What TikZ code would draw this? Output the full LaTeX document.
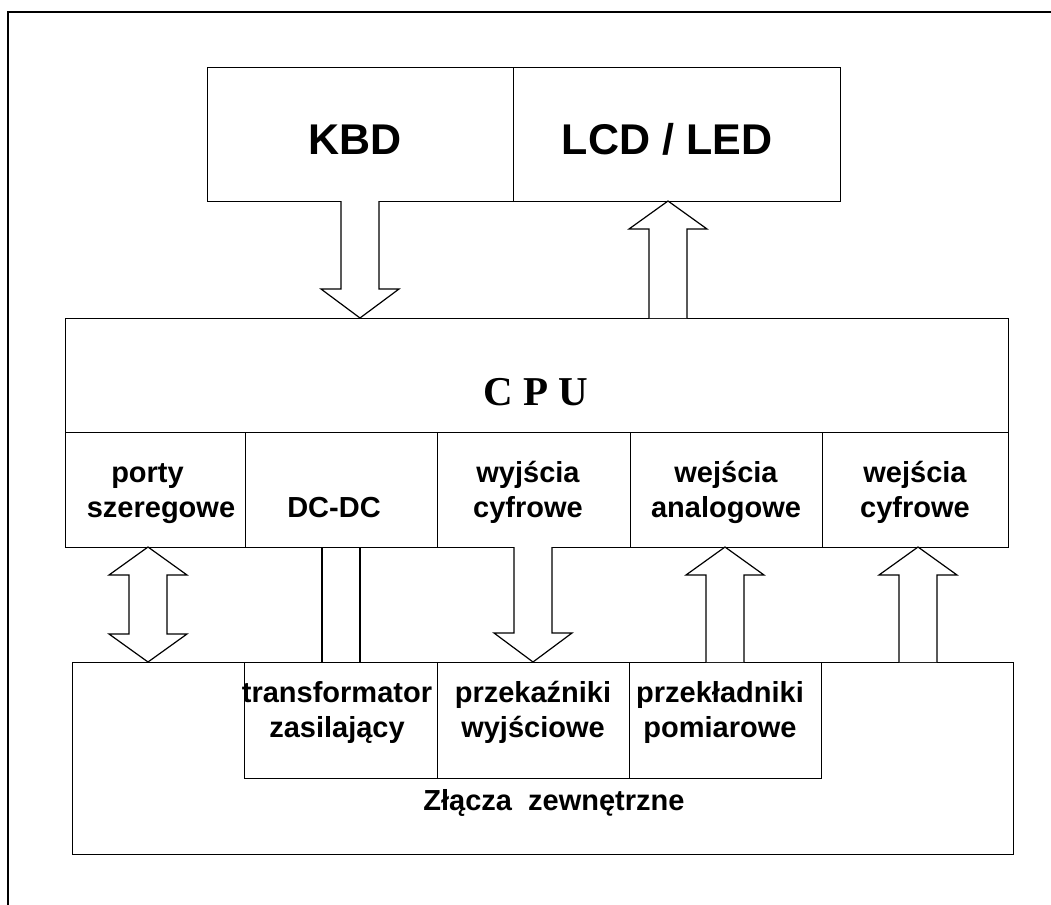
\documentclass[tikz,border=0pt]{standalone}
\usepackage{fontspec}
\setmainfont{Liberation Sans}
\newfontfamily\cpufont{Liberation Serif}
\newcommand\ArrowDown[3]{\draw[arr] (#1-19,#2) -- (#1-19,#3-29) -- (#1-39,#3-29) -- (#1,#3) -- (#1+39,#3-29) -- (#1+19,#3-29) -- (#1+19,#2);}
\newcommand\ArrowUp[3]{\draw[arr] (#1-19,#3) -- (#1-19,#2+28) -- (#1-39,#2+28) -- (#1,#2) -- (#1+39,#2+28) -- (#1+19,#2+28) -- (#1+19,#3);}
\begin{document}
\begin{tikzpicture}[x=1pt,y=-1pt, line width=1.2pt, line join=miter,
  box/.style={draw, inner sep=0pt, anchor=north west},
  lbl/.style={font=\bfseries\fontsize{29}{34.5}\selectfont, align=center, anchor=base, inner sep=0pt},
  big/.style={font=\bfseries\fontsize{43}{50}\selectfont, anchor=base, inner sep=0pt},
  arr/.style={draw, fill=white}]
\useasboundingbox (0,0) rectangle (1051,904);
% page frame
\draw (8,910) -- (8,12) -- (1060,12);

% top boxes
\node[box, minimum width=306, minimum height=134] (kbd) at (207,67) {};
\node[box, minimum width=327, minimum height=134] (lcd) at (513,67) {};
\node[big] (kbdt) at (355,155) {KBD};
\node[big] (lcdt) at (667,155) {LCD / LED};

% CPU
\node[box, minimum width=943, minimum height=114] (cpu) at (65,318) {};
\node[font=\cpufont\bfseries\fontsize{41}{48}\selectfont, anchor=base, inner sep=0pt] (cput) at (536,405) {C P U};

% CPU sub-blocks
\node[box, minimum width=180, minimum height=115] (porty) at (65,432) {};
\node[box, minimum width=192, minimum height=115] (dcdc) at (245,432) {};
\node[box, minimum width=193, minimum height=115] (wyc) at (437,432) {};
\node[box, minimum width=192, minimum height=115] (wea) at (630,432) {};
\node[box, minimum width=186, minimum height=115] (wec) at (822,432) {};
\node[lbl] (portyt) at (161,517) {porty\hspace*{27pt}\\szeregowe};
\node[lbl] (dcdct) at (334,517) {DC-DC};
\node[lbl] (wyct) at (528,517) {wyjścia\\cyfrowe};
\node[lbl] (weat) at (726,517) {wejścia\\analogowe};
\node[lbl] (wect) at (915,517) {wejścia\\cyfrowe};

% external connectors
\node[box, minimum width=941, minimum height=192] (ext) at (72,662) {};
\node[box, minimum width=193, minimum height=116] (trans) at (244,662) {};
\node[box, minimum width=192, minimum height=116] (prz) at (437,662) {};
\node[box, minimum width=192, minimum height=116] (pom) at (629,662) {};
\node[lbl] (transt) at (337,737) {transformator\\zasilający};
\node[lbl] (przt) at (533,737) {przekaźniki\\wyjściowe};
\node[lbl] (pomt) at (720,737) {przekładniki\\pomiarowe};
\node[lbl] (extt) at (554,810) {Złącza\ \ zewnętrzne};

% arrows top
\ArrowDown{360}{201}{318}
\ArrowUp{668}{201}{318}

% arrows bottom
\draw[arr] (148,547) -- (187,575) -- (167,575) -- (167,634) -- (187,634) -- (148,662)
  -- (109,634) -- (129,634) -- (129,575) -- (109,575) -- cycle;
\draw (322,547) -- (322,662);
\draw (360,547) -- (360,662);
\ArrowDown{533}{547}{662}
\ArrowUp{725}{547}{662}
\ArrowUp{918}{547}{662}
\end{tikzpicture}
\end{document}
